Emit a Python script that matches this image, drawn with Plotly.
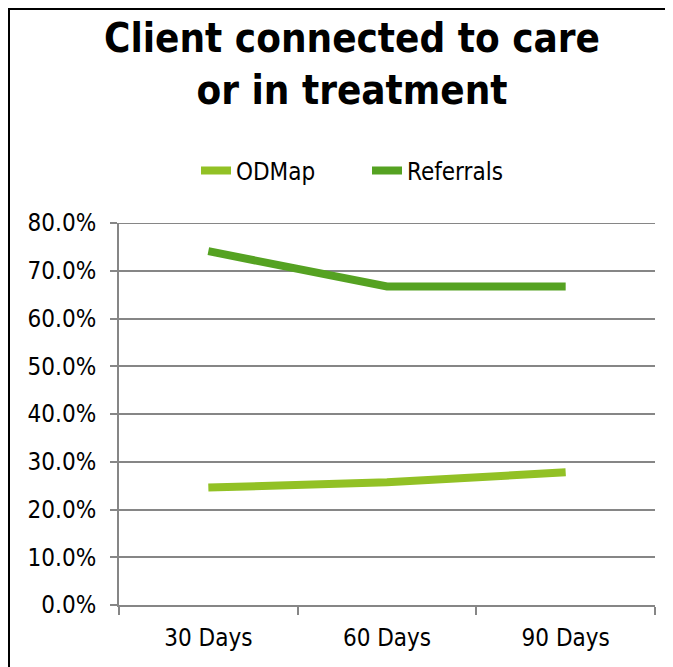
import plotly.graph_objects as go

categories = ["30 Days", "60 Days", "90 Days"]
odmap = [0.246, 0.257, 0.278]
referrals = [0.741, 0.667, 0.667]
series_names = ["ODMap", "Referrals"]
y_ticks = [0, 0.1, 0.2, 0.3, 0.4, 0.5, 0.6, 0.7, 0.8]

# page has an 8px body margin, so the figure is drawn 8px smaller and shifted
OFF = 8
W, H = 673 - OFF, 667 - OFF
ml, mr, mt, mb = 119 - OFF, 18, 223 - OFF, 62
pw, ph = W - ml - mr, H - mt - mb

fig = go.Figure()
fig.add_trace(go.Scatter(x=categories, y=odmap, name=series_names[0], mode="lines",
                         line=dict(color="#92C125", width=8, shape="spline", smoothing=0.3)))
fig.add_trace(go.Scatter(x=categories, y=referrals, name=series_names[1], mode="lines",
                         line=dict(color="#55A222", width=8)))

font_family = "DejaVu Sans Condensed, Liberation Sans Narrow, sans-serif"

fig.update_layout(
    width=W, height=H,
    margin=dict(l=ml, r=mr, t=mt, b=mb),
    paper_bgcolor="white", plot_bgcolor="white",
    title=dict(text="<b>Client connected to care<br>or in treatment</b>",
               x=344 / W, xanchor="center", y=1 - 44 / H, yanchor="middle",
               font=dict(family=font_family, size=40, color="black")),
    legend=dict(orientation="h", x=(196 - OFF - ml) / pw, xanchor="left",
                y=1 + 52 / ph, yanchor="middle", entrywidth=126, entrywidthmode="pixels",
                font=dict(family=font_family, size=24, color="black"),
                bgcolor="rgba(0,0,0,0)"),
    font=dict(family=font_family, size=23, color="black"),
    showlegend=True,
)
fig.update_xaxes(type="category", tickson="boundaries", ticks="outside", ticklen=8,
                 tickcolor="#868686", tickwidth=2, showline=True, linecolor="#868686",
                 linewidth=2, showgrid=False, tickfont=dict(size=24), range=[-0.5, 2.5],
                 zeroline=False, ticklabelstandoff=10)
fig.update_yaxes(range=[0, 0.8], tickvals=y_ticks, tickformat=".1%", ticks="outside",
                 ticklen=7, tickcolor="#868686", tickwidth=2, showline=True,
                 linecolor="#868686", linewidth=2, showgrid=True, gridcolor="#868686",
                 gridwidth=2, zeroline=False, tickfont=dict(size=24), ticklabelstandoff=9)

# top gridline (at the axis range edge)
fig.add_shape(type="line", xref="paper", yref="y", x0=0, x1=1, y0=y_ticks[-1], y1=y_ticks[-1],
              line=dict(color="#868686", width=2), layer="below")

# outer frame
x0 = (9 - OFF - ml) / pw
x1 = (668 - OFF - ml) / pw
y1 = (H - mb - (9 - OFF)) / ph
y0 = -(mb + 10) / ph
fig.add_shape(type="rect", xref="paper", yref="paper", x0=x0, x1=x1, y0=y0, y1=y1,
              line=dict(color="black", width=2), fillcolor="rgba(0,0,0,0)", layer="below")

fig.write_html("out.html")
